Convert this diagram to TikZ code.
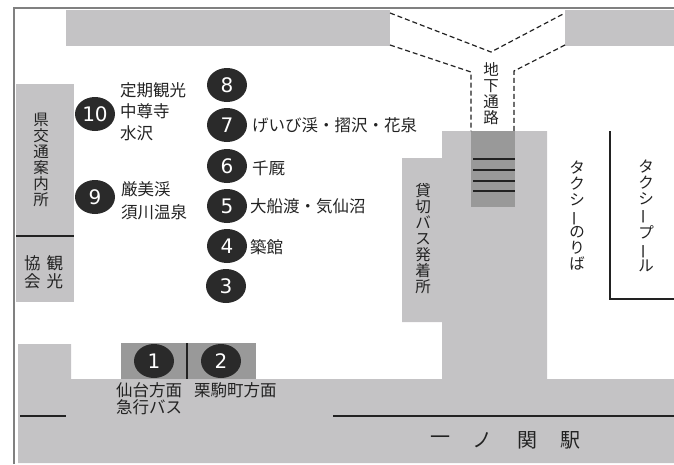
\documentclass[tikz,border=0pt]{standalone}
\usepackage{fontspec}
\setmainfont{Noto Sans CJK JP}
\newfontfamily\numfont{DejaVu Sans}
\newcommand{\vbar}{\rotatebox[origin=c]{90}{ー}}
\usetikzlibrary{shapes.geometric}
\definecolor{bandgray}{HTML}{C4C3C5}
\definecolor{darkgray2}{HTML}{999999}
\definecolor{stopfill}{HTML}{2A2A2A}
\definecolor{ink}{HTML}{222222}
\definecolor{frame}{HTML}{808080}
\tikzset{
  area/.style={fill=bandgray,draw=none},
  darkarea/.style={fill=darkgray2,draw=none},
  rule/.style={draw=ink,line width=1.2pt},
  tunnel/.style={draw=ink,line width=1.2pt,dash pattern=on 5pt off 3pt},
  stop/.style={ellipse,fill=stopfill,minimum width=40pt,minimum height=34pt,inner sep=0pt,text=white,font=\numfont\fontsize{20}{20}\selectfont},
  lab/.style={anchor=west,inner sep=0pt,text=ink,font=\fontsize{16.5}{17}\selectfont},
  vlab/.style={align=center,inner sep=0pt,text=ink,font=\fontsize{15.5}{16}\selectfont},
  bigl/.style={anchor=center,inner sep=0pt,text=ink,font=\fontsize{20}{20}\selectfont},
}
\begin{document}
\begin{tikzpicture}[x=1pt,y=-1pt]
\useasboundingbox (0,0) rectangle (674,464);
% frame
\draw[frame,line width=2.4pt] (14,464) -- (14,8) -- (674,8);
% grey areas
\fill[area] (66,10) rectangle (390,46);
\fill[area] (565,10) rectangle (674,46);
\fill[area] (16,84) rectangle (74,302);
\fill[area] (18,344) -- (71,344) -- (71,379) -- (442,379) -- (442,322) -- (402,322) -- (402,158) -- (442,158) -- (442,131) -- (547,131) -- (547,379) -- (674,379) -- (674,463) -- (18,463) -- cycle;
\fill[darkarea] (121,343) rectangle (256,379);
\fill[darkarea] (471,131) rectangle (515,207);
% rules
\draw[rule] (16,236) -- (74,236);
\draw[rule] (187,343) -- (187,379);
\draw[rule] (20,416) -- (66,416);
\draw[rule] (333,416) -- (674,416);
\draw[rule] (473,159) -- (515,159);
\draw[rule] (473,170) -- (515,170);
\draw[rule] (473,181) -- (515,181);
\draw[rule] (473,191) -- (515,191);
\draw[rule] (610,131) -- (610,299) -- (674,299);
% tunnel
\draw[tunnel] (390,13) -- (491,52) -- (565,13);
\draw[tunnel] (390,45) -- (471,72) -- (471,131);
\draw[tunnel] (565,45) -- (514,71) -- (514,131);
% stops
\node[stop] (s1) at (154,361) {1};
\node[stop] (s2) at (221,361) {2};
\node[stop] (s3) at (226,286) {3};
\node[stop] (s4) at (227,246) {4};
\node[stop] (s5) at (227,206) {5};
\node[stop] (s6) at (227,166) {6};
\node[stop] (s7) at (227,125) {7};
\node[stop] (s8) at (227,85) {8};
\node[stop] (s9) at (95,197) {9};
\node[stop] (s10) at (95,114) {10};
% labels
\node[lab] (l10a) at (120,90) {定期観光};
\node[lab] (l10b) at (120,111) {中尊寺};
\node[lab] (l10c) at (120,133) {水沢};
\node[lab] (l9a) at (121,189) {厳美渓};
\node[lab] (l9b) at (121,212) {須川温泉};
\node[lab] (l7) at (252,125) {げいび渓・摺沢・花泉};
\node[lab] (l6) at (252,168) {千厩};
\node[lab] (l5) at (250,206) {大船渡・気仙沼};
\node[lab] (l4) at (250,247) {築館};
\node[lab] (l1a) at (116,390) {仙台方面};
\node[lab] (l1b) at (116,407) {急行バス};
\node[lab] (l2) at (194,390) {栗駒町方面};
\node[vlab] (info) at (41,160) {県\\交\\通\\案\\内\\所};
\node[lab] (kyo) at (24,263) {協\hspace{6pt}観};
\node[lab] (kai) at (24,281) {会\hspace{6pt}光};
\node[vlab] (kashi) at (423,239) {貸\\切\\バ\\ス\\発\\着\\所};
\node[vlab] (taxi) at (577,216) {タ\\ク\\シ\\\vbar\\の\\り\\ば};
\node[vlab] (pool) at (646,216) {タ\\ク\\シ\\\vbar\\プ\\\vbar\\ル};
\node[vlab] (tun) at (491,94) {地\\下\\通\\路};
\node[bigl] (st1) at (440,440) {一};
\node[bigl] (st2) at (482,440) {ノ};
\node[bigl] (st3) at (527,440) {関};
\node[bigl] (st4) at (570,440) {駅};
\end{tikzpicture}
\end{document}
